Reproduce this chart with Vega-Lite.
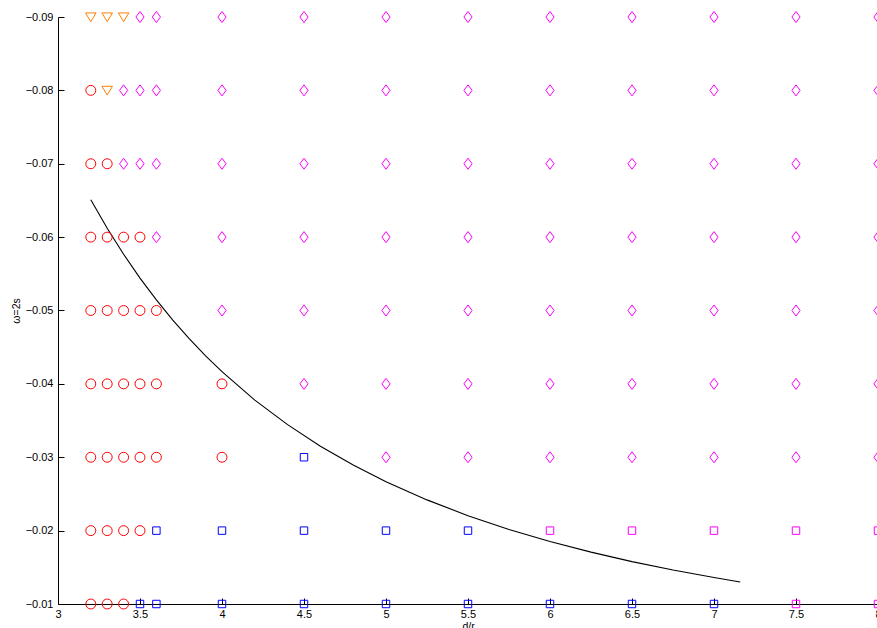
{
  "$schema": "https://vega.github.io/schema/vega-lite/v6.json",
  "width": 820,
  "height": 587,
  "autosize": "none",
  "padding": {"left": 58, "top": 17, "right": 0, "bottom": 24},
  "background": "white",
  "config": {
    "view": {"stroke": null},
    "axis": {
      "grid": false,
      "domainColor": "#000000",
      "domainWidth": 1,
      "tickColor": "#000000",
      "tickWidth": 1,
      "labelFont": "Liberation Sans",
      "labelFontSize": 11,
      "labelColor": "#000000",
      "titleFont": "Liberation Sans",
      "titleFontSize": 10.5,
      "titleFontWeight": "normal",
      "titleColor": "#000000"
    }
  },
  "datasets": {
    "curve": [
      {"x": 3.2, "y": -0.0651},
      {"x": 3.3, "y": -0.06122},
      {"x": 3.4, "y": -0.05767},
      {"x": 3.5, "y": -0.05442},
      {"x": 3.6, "y": -0.05144},
      {"x": 3.7, "y": -0.0487},
      {"x": 3.8, "y": -0.04617},
      {"x": 3.9, "y": -0.04383},
      {"x": 4.0, "y": -0.04167},
      {"x": 4.2, "y": -0.03779},
      {"x": 4.4, "y": -0.03444},
      {"x": 4.6, "y": -0.03151},
      {"x": 4.8, "y": -0.02894},
      {"x": 5.0, "y": -0.02667},
      {"x": 5.25, "y": -0.02419},
      {"x": 5.5, "y": -0.02204},
      {"x": 5.75, "y": -0.02016},
      {"x": 6.0, "y": -0.01852},
      {"x": 6.25, "y": -0.01707},
      {"x": 6.5, "y": -0.01578},
      {"x": 6.75, "y": -0.01463},
      {"x": 7.0, "y": -0.01361},
      {"x": 7.16, "y": -0.013}
    ],
    "pts": [
      {"x": 3.2, "y": -0.09, "c": "T"}, {"x": 3.3, "y": -0.09, "c": "T"}, {"x": 3.4, "y": -0.09, "c": "T"}, {"x": 3.5, "y": -0.09, "c": "D"}, {"x": 3.6, "y": -0.09, "c": "D"},
      {"x": 4, "y": -0.09, "c": "D"}, {"x": 4.5, "y": -0.09, "c": "D"}, {"x": 5, "y": -0.09, "c": "D"}, {"x": 5.5, "y": -0.09, "c": "D"}, {"x": 6, "y": -0.09, "c": "D"}, {"x": 6.5, "y": -0.09, "c": "D"}, {"x": 7, "y": -0.09, "c": "D"}, {"x": 7.5, "y": -0.09, "c": "D"}, {"x": 8, "y": -0.09, "c": "D"},

      {"x": 3.2, "y": -0.08, "c": "C"}, {"x": 3.3, "y": -0.08, "c": "T"}, {"x": 3.4, "y": -0.08, "c": "D"}, {"x": 3.5, "y": -0.08, "c": "D"}, {"x": 3.6, "y": -0.08, "c": "D"},
      {"x": 4, "y": -0.08, "c": "D"}, {"x": 4.5, "y": -0.08, "c": "D"}, {"x": 5, "y": -0.08, "c": "D"}, {"x": 5.5, "y": -0.08, "c": "D"}, {"x": 6, "y": -0.08, "c": "D"}, {"x": 6.5, "y": -0.08, "c": "D"}, {"x": 7, "y": -0.08, "c": "D"}, {"x": 7.5, "y": -0.08, "c": "D"}, {"x": 8, "y": -0.08, "c": "D"},

      {"x": 3.2, "y": -0.07, "c": "C"}, {"x": 3.3, "y": -0.07, "c": "C"}, {"x": 3.4, "y": -0.07, "c": "D"}, {"x": 3.5, "y": -0.07, "c": "D"}, {"x": 3.6, "y": -0.07, "c": "D"},
      {"x": 4, "y": -0.07, "c": "D"}, {"x": 4.5, "y": -0.07, "c": "D"}, {"x": 5, "y": -0.07, "c": "D"}, {"x": 5.5, "y": -0.07, "c": "D"}, {"x": 6, "y": -0.07, "c": "D"}, {"x": 6.5, "y": -0.07, "c": "D"}, {"x": 7, "y": -0.07, "c": "D"}, {"x": 7.5, "y": -0.07, "c": "D"}, {"x": 8, "y": -0.07, "c": "D"},

      {"x": 3.2, "y": -0.06, "c": "C"}, {"x": 3.3, "y": -0.06, "c": "C"}, {"x": 3.4, "y": -0.06, "c": "C"}, {"x": 3.5, "y": -0.06, "c": "C"}, {"x": 3.6, "y": -0.06, "c": "D"},
      {"x": 4, "y": -0.06, "c": "D"}, {"x": 4.5, "y": -0.06, "c": "D"}, {"x": 5, "y": -0.06, "c": "D"}, {"x": 5.5, "y": -0.06, "c": "D"}, {"x": 6, "y": -0.06, "c": "D"}, {"x": 6.5, "y": -0.06, "c": "D"}, {"x": 7, "y": -0.06, "c": "D"}, {"x": 7.5, "y": -0.06, "c": "D"}, {"x": 8, "y": -0.06, "c": "D"},

      {"x": 3.2, "y": -0.05, "c": "C"}, {"x": 3.3, "y": -0.05, "c": "C"}, {"x": 3.4, "y": -0.05, "c": "C"}, {"x": 3.5, "y": -0.05, "c": "C"}, {"x": 3.6, "y": -0.05, "c": "C"},
      {"x": 4, "y": -0.05, "c": "D"}, {"x": 4.5, "y": -0.05, "c": "D"}, {"x": 5, "y": -0.05, "c": "D"}, {"x": 5.5, "y": -0.05, "c": "D"}, {"x": 6, "y": -0.05, "c": "D"}, {"x": 6.5, "y": -0.05, "c": "D"}, {"x": 7, "y": -0.05, "c": "D"}, {"x": 7.5, "y": -0.05, "c": "D"}, {"x": 8, "y": -0.05, "c": "D"},

      {"x": 3.2, "y": -0.04, "c": "C"}, {"x": 3.3, "y": -0.04, "c": "C"}, {"x": 3.4, "y": -0.04, "c": "C"}, {"x": 3.5, "y": -0.04, "c": "C"}, {"x": 3.6, "y": -0.04, "c": "C"},
      {"x": 4, "y": -0.04, "c": "C"}, {"x": 4.5, "y": -0.04, "c": "D"}, {"x": 5, "y": -0.04, "c": "D"}, {"x": 5.5, "y": -0.04, "c": "D"}, {"x": 6, "y": -0.04, "c": "D"}, {"x": 6.5, "y": -0.04, "c": "D"}, {"x": 7, "y": -0.04, "c": "D"}, {"x": 7.5, "y": -0.04, "c": "D"}, {"x": 8, "y": -0.04, "c": "D"},

      {"x": 3.2, "y": -0.03, "c": "C"}, {"x": 3.3, "y": -0.03, "c": "C"}, {"x": 3.4, "y": -0.03, "c": "C"}, {"x": 3.5, "y": -0.03, "c": "C"}, {"x": 3.6, "y": -0.03, "c": "C"},
      {"x": 4, "y": -0.03, "c": "C"}, {"x": 4.5, "y": -0.03, "c": "B"}, {"x": 5, "y": -0.03, "c": "D"}, {"x": 5.5, "y": -0.03, "c": "D"}, {"x": 6, "y": -0.03, "c": "D"}, {"x": 6.5, "y": -0.03, "c": "D"}, {"x": 7, "y": -0.03, "c": "D"}, {"x": 7.5, "y": -0.03, "c": "D"}, {"x": 8, "y": -0.03, "c": "D"},

      {"x": 3.2, "y": -0.02, "c": "C"}, {"x": 3.3, "y": -0.02, "c": "C"}, {"x": 3.4, "y": -0.02, "c": "C"}, {"x": 3.5, "y": -0.02, "c": "C"}, {"x": 3.6, "y": -0.02, "c": "B"},
      {"x": 4, "y": -0.02, "c": "B"}, {"x": 4.5, "y": -0.02, "c": "B"}, {"x": 5, "y": -0.02, "c": "B"}, {"x": 5.5, "y": -0.02, "c": "B"}, {"x": 6, "y": -0.02, "c": "M"}, {"x": 6.5, "y": -0.02, "c": "M"}, {"x": 7, "y": -0.02, "c": "M"}, {"x": 7.5, "y": -0.02, "c": "M"}, {"x": 8, "y": -0.02, "c": "M"},

      {"x": 3.2, "y": -0.01, "c": "C"}, {"x": 3.3, "y": -0.01, "c": "C"}, {"x": 3.4, "y": -0.01, "c": "C"}, {"x": 3.5, "y": -0.01, "c": "B"}, {"x": 3.6, "y": -0.01, "c": "B"},
      {"x": 4, "y": -0.01, "c": "B"}, {"x": 4.5, "y": -0.01, "c": "B"}, {"x": 5, "y": -0.01, "c": "B"}, {"x": 5.5, "y": -0.01, "c": "B"}, {"x": 6, "y": -0.01, "c": "B"}, {"x": 6.5, "y": -0.01, "c": "B"}, {"x": 7, "y": -0.01, "c": "B"}, {"x": 7.5, "y": -0.01, "c": "M"}, {"x": 8, "y": -0.01, "c": "M"}
    ]
  },
  "layer": [
    {
      "data": {"name": "curve"},
      "mark": {"type": "line", "color": "#000000", "strokeWidth": 1.1},
      "encoding": {
        "x": {
          "field": "x", "type": "quantitative",
          "scale": {"domain": [3, 8], "nice": false, "zero": false},
          "axis": {
            "title": "d/r",
            "values": [3, 3.5, 4, 4.5, 5, 5.5, 6, 6.5, 7, 7.5, 8],
            "format": ".1~f",
            "tickSize": -6,
            "labelPadding": 10,
            "titlePadding": 2,
            "labelFlush": false,
            "labelOverlap": false
          }
        },
        "y": {
          "field": "y", "type": "quantitative",
          "scale": {"domain": [-0.09, -0.01], "nice": false, "zero": false, "reverse": true},
          "axis": {
            "title": "ω=2s",
            "values": [-0.09, -0.08, -0.07, -0.06, -0.05, -0.04, -0.03, -0.02, -0.01],
            "format": ".2f",
            "tickSize": -6,
            "labelPadding": 11,
            "titlePadding": 4,
            "labelFlush": false,
            "labelOverlap": false
          }
        }
      }
    },
    {
      "data": {"name": "pts"},
      "mark": {"type": "point", "filled": false, "strokeWidth": 1, "size": 144, "opacity": 1},
      "encoding": {
        "x": {"field": "x", "type": "quantitative"},
        "y": {"field": "y", "type": "quantitative"},
        "shape": {
          "field": "c", "type": "nominal", "legend": null,
          "scale": {
            "domain": ["C", "T", "D", "B", "M"],
            "range": [
              "M-0.83,0A0.83,0.83 0 1,0 0.83,0A0.83,0.83 0 1,0 -0.83,0Z",
              "M-0.88,-0.68L0.88,-0.68L0,0.78Z",
              "M0,-0.92L0.68,0L0,0.92L-0.68,0Z",
              "M-0.62,-0.62L0.62,-0.62L0.62,0.62L-0.62,0.62Z",
              "M-0.62,-0.62L0.62,-0.62L0.62,0.62L-0.62,0.62Z"
            ]
          }
        },
        "color": {
          "field": "c", "type": "nominal", "legend": null,
          "scale": {
            "domain": ["C", "T", "D", "B", "M"],
            "range": ["#ff0000", "#ff8000", "#ff00ff", "#0000ff", "#ff00ff"]
          }
        }
      }
    }
  ]
}
